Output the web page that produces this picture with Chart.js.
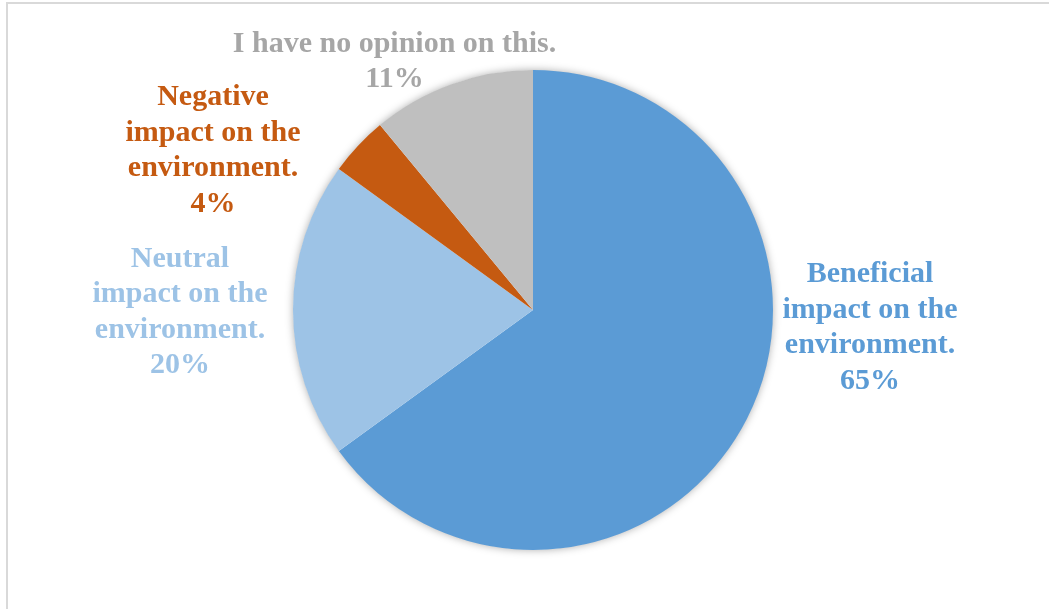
<!DOCTYPE html>
<html>
<head>
<meta charset="utf-8">
<title>Environmental impact opinion</title>
<script src="https://cdn.jsdelivr.net/npm/chart.js@4"></script>
<style>
  html, body { margin: 0; padding: 0; background: #ffffff; overflow: hidden; }
  #wrap { position: relative; width: 1049px; height: 609px; }
  #frame { position: absolute; left: 6px; top: 2px; width: 1100px; height: 700px;
           border-left: 2px solid #d9d9d9; border-top: 2px solid #d9d9d9; box-sizing: border-box; }
  canvas { position: absolute; left: 0; top: 0; }
</style>
</head>
<body>
<div id="wrap">
  <div id="frame"></div>
  <canvas id="chart" width="1049" height="609"></canvas>
</div>
<script>
// Survey answers, clockwise from 12 o'clock
const categories = [
  ["Beneficial", "impact on the", "environment."],
  ["Neutral", "impact on the", "environment."],
  ["Negative", "impact on the", "environment."],
  ["I have no opinion on this."]
];
const shares = [65, 20, 4, 11];
const sliceColors = ["#5B9BD5", "#9DC3E6", "#C55A11", "#BFBFBF"];
const labelColors = ["#5B9BD5", "#9DC3E6", "#C55A11", "#A6A6A6"];

// Where each label block sits, relative to the pie centre (x offset, block-centre y offset)
const labelOffsets = [
  [337, 17.5],
  [-353, 2],
  [-320, -159.5],
  [-138.5, -248.5]
];

const FONT = "bold 30px 'Liberation Serif', 'Times New Roman', serif";
const LINE_H = 35.5;

// Soft drop shadow behind the whole pie
const pieShadow = {
  id: 'pieShadow',
  beforeDatasetsDraw(chart) {
    const arc = chart.getDatasetMeta(0).data[0];
    if (!arc) return;
    const ctx = chart.ctx;
    ctx.save();
    ctx.shadowColor = 'rgba(0,0,0,0.35)';
    ctx.shadowBlur = 9;
    ctx.fillStyle = '#ffffff';
    ctx.beginPath();
    ctx.arc(arc.x, arc.y, arc.outerRadius - 0.5, 0, Math.PI * 2);
    ctx.fill();
    ctx.restore();
  }
};

// Category name plus percentage beside each slice
const sliceLabels = {
  id: 'sliceLabels',
  afterDatasetsDraw(chart) {
    const meta = chart.getDatasetMeta(0);
    const ctx = chart.ctx;
    const values = chart.data.datasets[0].data;
    const total = values.reduce((a, b) => a + b, 0);
    ctx.save();
    ctx.font = FONT;
    ctx.textAlign = 'center';
    ctx.textBaseline = 'middle';
    meta.data.forEach((arc, i) => {
      const lines = [].concat(chart.data.labels[i], Math.round(values[i] / total * 100) + '%');
      const cx = arc.x + labelOffsets[i][0];
      const top = arc.y + labelOffsets[i][1] - (lines.length - 1) * LINE_H / 2;
      ctx.fillStyle = labelColors[i];
      lines.forEach((t, k) => ctx.fillText(t, cx, top + k * LINE_H));
    });
    ctx.restore();
  }
};

new Chart(document.getElementById('chart'), {
  type: 'pie',
  data: {
    labels: categories,
    datasets: [{
      data: shares,
      backgroundColor: sliceColors,
      borderWidth: 0,
      hoverOffset: 0
    }]
  },
  options: {
    responsive: false,
    animation: false,
    events: [],
    layout: { padding: { left: 200, right: 183, top: 70, bottom: 59 } },
    plugins: {
      legend: { display: false },
      tooltip: { enabled: false }
    }
  },
  plugins: [pieShadow, sliceLabels]
});
</script>
</body>
</html>
